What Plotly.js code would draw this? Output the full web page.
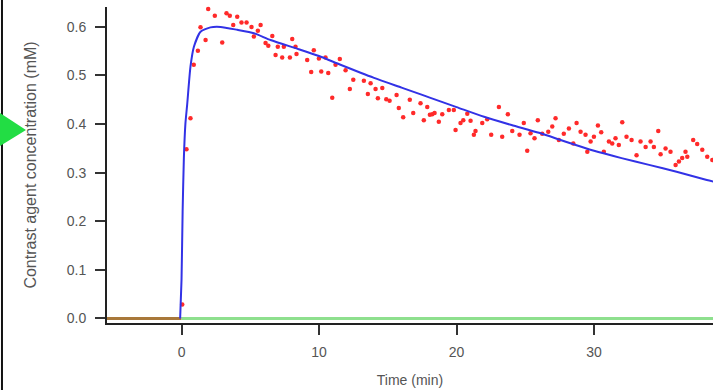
<!DOCTYPE html>
<html>
<head>
<meta charset="utf-8">
<script src="https://cdn.plot.ly/plotly-3.0.1.min.js"></script>
<style>
html,body{margin:0;padding:0;background:#fff;}
#chart{width:713px;height:390px;}
</style>
</head>
<body>
<div id="chart"></div>
<script>
// Measured contrast agent concentration (red points)
const dataTime = [0.05,0.36,0.65,0.89,1.19,1.38,1.75,1.94,2.42,2.96,3.27,3.51,3.76,4.05,4.36,4.73,5.09,5.26,5.55,5.75,6.11,6.31,6.60,6.84,7.00,7.32,7.44,7.88,8.05,8.29,8.36,9.14,9.43,9.62,9.99,10.16,10.47,10.67,10.96,11.20,11.51,11.93,12.24,12.49,13.26,13.55,13.75,14.11,14.28,14.60,14.89,15.13,15.64,15.80,16.12,16.60,16.85,17.38,17.62,17.87,18.06,18.23,18.40,18.71,18.96,19.44,19.80,19.93,20.29,20.49,20.78,21.02,21.26,21.38,21.87,22.23,22.52,23.08,23.32,23.73,24.05,24.58,24.89,25.14,25.38,25.67,25.91,26.23,26.67,26.96,27.20,27.44,27.80,28.17,28.49,28.73,29.02,29.38,29.51,29.75,29.99,30.28,30.52,30.71,31.08,31.32,31.56,31.80,32.05,32.36,32.73,33.09,33.38,33.75,34.11,34.35,34.67,34.84,35.20,35.56,35.93,36.17,36.41,36.65,36.78,37.21,37.50,37.87,38.23,38.60];
const dataConc = [0.029,0.348,0.412,0.522,0.551,0.599,0.573,0.637,0.623,0.568,0.628,0.623,0.604,0.621,0.609,0.609,0.600,0.580,0.592,0.604,0.567,0.561,0.581,0.542,0.559,0.537,0.559,0.537,0.575,0.559,0.544,0.532,0.507,0.552,0.535,0.508,0.537,0.505,0.454,0.522,0.534,0.511,0.472,0.491,0.489,0.462,0.484,0.472,0.453,0.474,0.451,0.448,0.460,0.433,0.414,0.450,0.423,0.443,0.408,0.435,0.419,0.420,0.423,0.405,0.420,0.429,0.429,0.388,0.402,0.408,0.421,0.407,0.378,0.386,0.402,0.410,0.378,0.435,0.374,0.420,0.386,0.378,0.402,0.345,0.381,0.371,0.408,0.380,0.384,0.395,0.412,0.367,0.380,0.391,0.360,0.402,0.384,0.378,0.343,0.364,0.374,0.397,0.383,0.343,0.364,0.360,0.371,0.357,0.404,0.374,0.367,0.336,0.364,0.353,0.364,0.353,0.386,0.338,0.350,0.343,0.316,0.323,0.330,0.343,0.333,0.367,0.359,0.347,0.333,0.326];

// Fitted model curve (blue)
const fitTime = [-0.1,0.0,0.08,0.17,0.28,0.41,0.65,0.9,1.38,2.1,2.84,4.05,5.26,6.47,8.53,10,11.56,14,16,17.4,18,20,22,24,26,28,30,32,34,36,38.2,38.8];
const fitConc = [0,0.08,0.22,0.33,0.40,0.44,0.518,0.559,0.59,0.599,0.600,0.594,0.587,0.573,0.554,0.54,0.522,0.495,0.475,0.461,0.455,0.435,0.415,0.398,0.382,0.363,0.345,0.33,0.316,0.302,0.285,0.281];

// Baseline segments
const preTime = [-5.42, 0];
const preConc = [0, 0];
const postTime = [0, 38.7];
const postConc = [0, 0];

const xTicks = [0, 10, 20, 30];
const xTickText = ['0', '10', '20', '30'];
const yTicks = [0, 0.1, 0.2, 0.3, 0.4, 0.5, 0.6];
const yTickText = ['0.0', '0.1', '0.2', '0.3', '0.4', '0.5', '0.6'];

const traces = [
  {x: preTime, y: preConc, mode: 'lines', line: {color: '#a8783a', width: 3}, hoverinfo: 'skip'},
  {x: postTime, y: postConc, mode: 'lines', line: {color: '#8ee08e', width: 3}, hoverinfo: 'skip'},
  {x: dataTime, y: dataConc, mode: 'markers', cliponaxis: false, marker: {color: '#ff2a2a', size: 4.5}},
  {x: fitTime, y: fitConc, mode: 'lines', line: {color: '#3232e6', width: 2, shape: 'spline', smoothing: 0.6}}
];

const layout = {
  width: 713, height: 390,
  margin: {l: 107, r: 0, t: 7, b: 67},
  paper_bgcolor: '#ffffff', plot_bgcolor: '#ffffff',
  showlegend: false,
  font: {family: 'Liberation Sans, Arial, sans-serif', size: 14, color: '#555555'},
  xaxis: {
    range: [-5.42, 38.65],
    tickvals: xTicks, ticktext: xTickText,
    showgrid: false, zeroline: false,
    showline: true, linecolor: '#222222', linewidth: 2,
    ticks: 'outside', ticklen: 10, tickwidth: 2, tickcolor: '#333333',
    ticklabelstandoff: 5,
    tickfont: {size: 14, color: '#555555'},
    title: {text: 'Time (min)', font: {size: 14, color: '#555555'}, standoff: 16}
  },
  yaxis: {
    range: [-0.0093, 0.6409],
    tickvals: yTicks, ticktext: yTickText,
    showgrid: false, zeroline: false,
    showline: true, linecolor: '#222222', linewidth: 2,
    ticks: 'outside', ticklen: 10, tickwidth: 2, tickcolor: '#333333',
    ticklabelstandoff: 6,
    tickfont: {size: 14, color: '#555555'},
    title: {text: 'Contrast agent concentration (mM)', font: {size: 16, color: '#555555'}, standoff: 26}
  },
  shapes: [
    {type: 'line', xref: 'paper', yref: 'paper', x0: -0.1733, x1: -0.1733, y0: -0.22, y1: 1.04,
     line: {color: '#111111', width: 2}},
    {type: 'path', xref: 'paper', yref: 'paper', path: 'M -0.1766 0.6646 L -0.1337 0.6108 L -0.1766 0.5601 Z',
     fillcolor: '#22dd44', line: {width: 0}}
  ]
};

Plotly.newPlot('chart', traces, layout, {displayModeBar: false, staticPlot: true});
</script>
</body>
</html>
